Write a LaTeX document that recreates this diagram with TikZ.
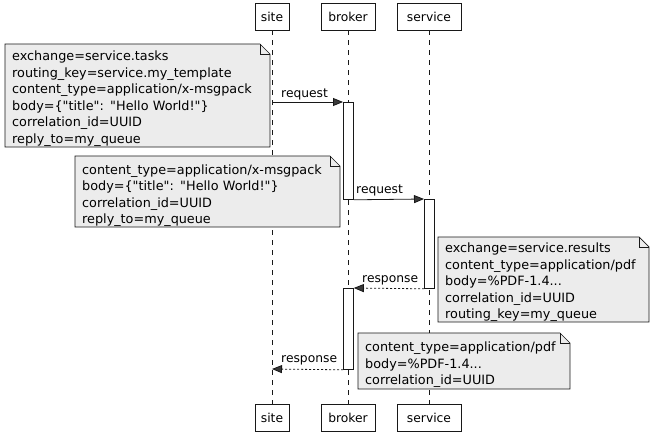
\documentclass[tikz,border=0pt]{standalone}
\usepackage{fontspec}
\setmainfont{DejaVu Sans}
\usetikzlibrary{arrows.meta}
\newcommand\dgfont{\fontsize{12.3}{15}\selectfont}
\newcommand\ntfont{\fontsize{12.8}{16.6}\selectfont}
\newcommand\qq{\textquotedbl}
\definecolor{linec}{HTML}{181818}
\definecolor{notefill}{HTML}{ECECEC}
\definecolor{headc}{HTML}{3A3A3A}
\tikzset{
  participant/.style={draw=linec, fill=white, line width=0.8pt, minimum height=27pt,
    inner sep=0pt, font=\dgfont},
  lifeline/.style={draw=linec, line width=0.7pt, dash pattern=on 5pt off 5pt},
  activation/.style={draw=linec, fill=white, line width=0.8pt, minimum width=10pt,
    inner sep=0pt, anchor=north west},
  notetext/.style={inner sep=0pt, align=left, text width=300pt, font=\ntfont, anchor=base west},
  noteshape/.style={draw=linec, fill=notefill, line width=0.7pt},
  msg/.style={draw=linec, line width=0.8pt, -{Triangle[length=10pt,width=8pt,fill=headc]}},
  replymsg/.style={msg, dash pattern=on 2pt off 2pt},
  msglabel/.style={font=\dgfont, inner sep=0pt, anchor=base west}
}
% folded note outline: #1,#2 = top left corner, #3,#4 = bottom right corner
\newcommand\notebg[4]{%
  \draw[noteshape] (#1,#2) -- (#3-10,#2) -- (#3,#2+10) -- (#3,#4) -- (#1,#4) -- cycle;
  \draw[draw=linec, line width=0.7pt] (#3-10,#2) -- (#3-10,#2+10) -- (#3,#2+10);}
\begin{document}
\begin{tikzpicture}[x=1pt,y=-1pt]
\useasboundingbox (0,0) rectangle (650,434);
% participants
\node[participant, minimum width=34pt] (siteT) at (272,16.5) {site};
\node[participant, minimum width=54pt] (brokerT) at (348,16.5) {broker};
\node[participant, minimum width=64pt] (serviceT) at (429,16.5) {service};
\node[participant, minimum width=34pt] (siteB) at (272,417.5) {site};
\node[participant, minimum width=54pt] (brokerB) at (348,417.5) {broker};
\node[participant, minimum width=64pt] (serviceB) at (429,417.5) {service};
% lifelines
\draw[lifeline] (siteT.south) -- (siteB.north);
\draw[lifeline] (brokerT.south) -- (brokerB.north);
\draw[lifeline] (serviceT.south) -- (serviceB.north);
% activations
\node[activation, minimum height=97pt] (act1) at (343,102) {};
\node[activation, minimum height=89pt] (act2) at (424,199) {};
\node[activation, minimum height=81pt] (act3) at (343,288) {};
% notes
\notebg{5}{44}{270}{147}
\node[notetext] (note1) at (12,60.5)
  {exchange=service.tasks\\routing\_key=service.my\_template\\content\_type=application/x-msgpack\\body=\{\qq title\qq: \qq Hello World!\qq\}\\correlation\_id=UUID\\reply\_to=my\_queue};
\notebg{75}{156}{340}{227}
\node[notetext] (note2) at (82,174)
  {content\_type=application/x-msgpack\\body=\{\qq title\qq: \qq Hello World!\qq\}\\correlation\_id=UUID\\reply\_to=my\_queue};
\notebg{438}{237}{649}{322}
\node[notetext] (note3) at (445,252.5)
  {exchange=service.results\\content\_type=application/pdf\\body=\%PDF-1.4...\\correlation\_id=UUID\\routing\_key=my\_queue};
\notebg{358}{333}{570}{389}
\node[notetext] (note4) at (365,351.5)
  {content\_type=application/pdf\\body=\%PDF-1.4...\\correlation\_id=UUID};
% messages
\coordinate (m1s) at (272,102);
\coordinate (m4e) at (272,369);
\draw[msg] (m1s) -- (act1.north west);
\node[msglabel] (l1) at (281,97) {request};
\draw[msg] (act1.south east) -- (act2.north west);
\node[msglabel] (l2) at (356,193) {request};
\draw[replymsg] (act2.south west) -- (act3.north east);
\node[msglabel] (l3) at (362,282) {response};
\draw[replymsg] (act3.south west) -- (m4e);
\node[msglabel] (l4) at (281,362) {response};
\end{tikzpicture}
\end{document}
